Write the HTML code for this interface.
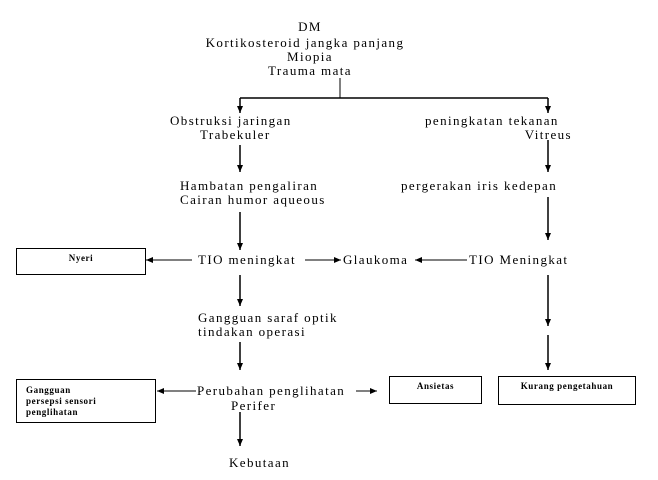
<!DOCTYPE html>
<html><head><meta charset="utf-8"><style>
body{margin:0;background:#fff;}
.w{position:relative;width:658px;height:480px;overflow:hidden;font-family:"Liberation Serif",serif;color:#000;}
.t{position:absolute;font-size:13px;letter-spacing:1.4px;line-height:14px;white-space:nowrap;}
.b{position:absolute;border:1px solid #000;font-size:9px;letter-spacing:0.6px;font-weight:bold;line-height:11px;box-sizing:border-box;}
svg{position:absolute;left:0;top:0;}
</style></head><body><div class="w">
<svg width="658" height="480">
<defs><marker id="a" markerWidth="8" markerHeight="8" refX="7" refY="4" orient="auto" markerUnits="userSpaceOnUse"><path d="M0,1 L7,4 L0,7 z" fill="#000"/></marker></defs>
<g stroke="#000" stroke-width="1.5" fill="none">
<line x1="340" y1="78" x2="340" y2="98" stroke-width="1"/>
<line x1="240" y1="98" x2="548" y2="98"/>
<line x1="240" y1="98" x2="240" y2="113" marker-end="url(#a)"/>
<line x1="548" y1="98" x2="548" y2="113" marker-end="url(#a)"/>
<line x1="240" y1="145" x2="240" y2="172" marker-end="url(#a)"/>
<line x1="548" y1="140" x2="548" y2="172" marker-end="url(#a)"/>
<line x1="240" y1="212" x2="240" y2="250" marker-end="url(#a)"/>
<line x1="548" y1="197" x2="548" y2="240" marker-end="url(#a)"/>
<line x1="192" y1="260" x2="146" y2="260" stroke-width="1" marker-end="url(#a)"/>
<line x1="305" y1="260" x2="341" y2="260" stroke-width="1" marker-end="url(#a)"/>
<line x1="467" y1="260" x2="415" y2="260" stroke-width="1" marker-end="url(#a)"/>
<line x1="240" y1="275" x2="240" y2="306" marker-end="url(#a)"/>
<line x1="548" y1="275" x2="548" y2="326" marker-end="url(#a)"/>
<line x1="240" y1="342" x2="240" y2="370" marker-end="url(#a)"/>
<line x1="548" y1="335" x2="548" y2="370" marker-end="url(#a)"/>
<line x1="196" y1="391" x2="157" y2="391" stroke-width="1" marker-end="url(#a)"/>
<line x1="356" y1="391" x2="377" y2="391" stroke-width="1" marker-end="url(#a)"/>
<line x1="240" y1="412" x2="240" y2="446" marker-end="url(#a)"/>
</g></svg>
<div class="t" style="left:180px;width:260px;text-align:center;top:20px">DM</div>
<div class="t" style="left:175px;width:260px;text-align:center;top:36px">Kortikosteroid jangka panjang</div>
<div class="t" style="left:180px;width:260px;text-align:center;top:50px">Miopia</div>
<div class="t" style="left:180px;width:260px;text-align:center;top:64px">Trauma mata</div>
<div class="t" style="left:170px;top:114px">Obstruksi jaringan</div>
<div class="t" style="left:200px;top:128px">Trabekuler</div>
<div class="t" style="left:425px;top:114px">peningkatan tekanan</div>
<div class="t" style="right:86px;top:128px">Vitreus</div>
<div class="t" style="left:180px;top:179px">Hambatan pengaliran</div>
<div class="t" style="left:180px;top:193px">Cairan humor aqueous</div>
<div class="t" style="left:401px;top:179px">pergerakan iris kedepan</div>
<div class="b" style="left:16px;top:248px;width:130px;height:27px;text-align:center;padding-top:4px">Nyeri</div>
<div class="t" style="left:198px;top:253px">TIO meningkat</div>
<div class="t" style="left:343px;top:253px">Glaukoma</div>
<div class="t" style="left:469px;top:253px">TIO Meningkat</div>
<div class="t" style="left:198px;top:311px">Gangguan saraf optik</div>
<div class="t" style="left:198px;top:325px">tindakan operasi</div>
<div class="b" style="left:16px;top:379px;width:140px;height:44px;padding:5px 0 0 9px">Gangguan<br>persepsi sensori<br>penglihatan</div>
<div class="t" style="left:197px;top:384px">Perubahan penglihatan</div>
<div class="t" style="left:231px;top:399px">Perifer</div>
<div class="b" style="left:389px;top:376px;width:93px;height:28px;text-align:center;padding-top:4px">Ansietas</div>
<div class="b" style="left:498px;top:376px;width:138px;height:29px;text-align:center;padding-top:4px">Kurang pengetahuan</div>
<div class="t" style="left:229px;top:456px">Kebutaan</div>
</div></body></html>
